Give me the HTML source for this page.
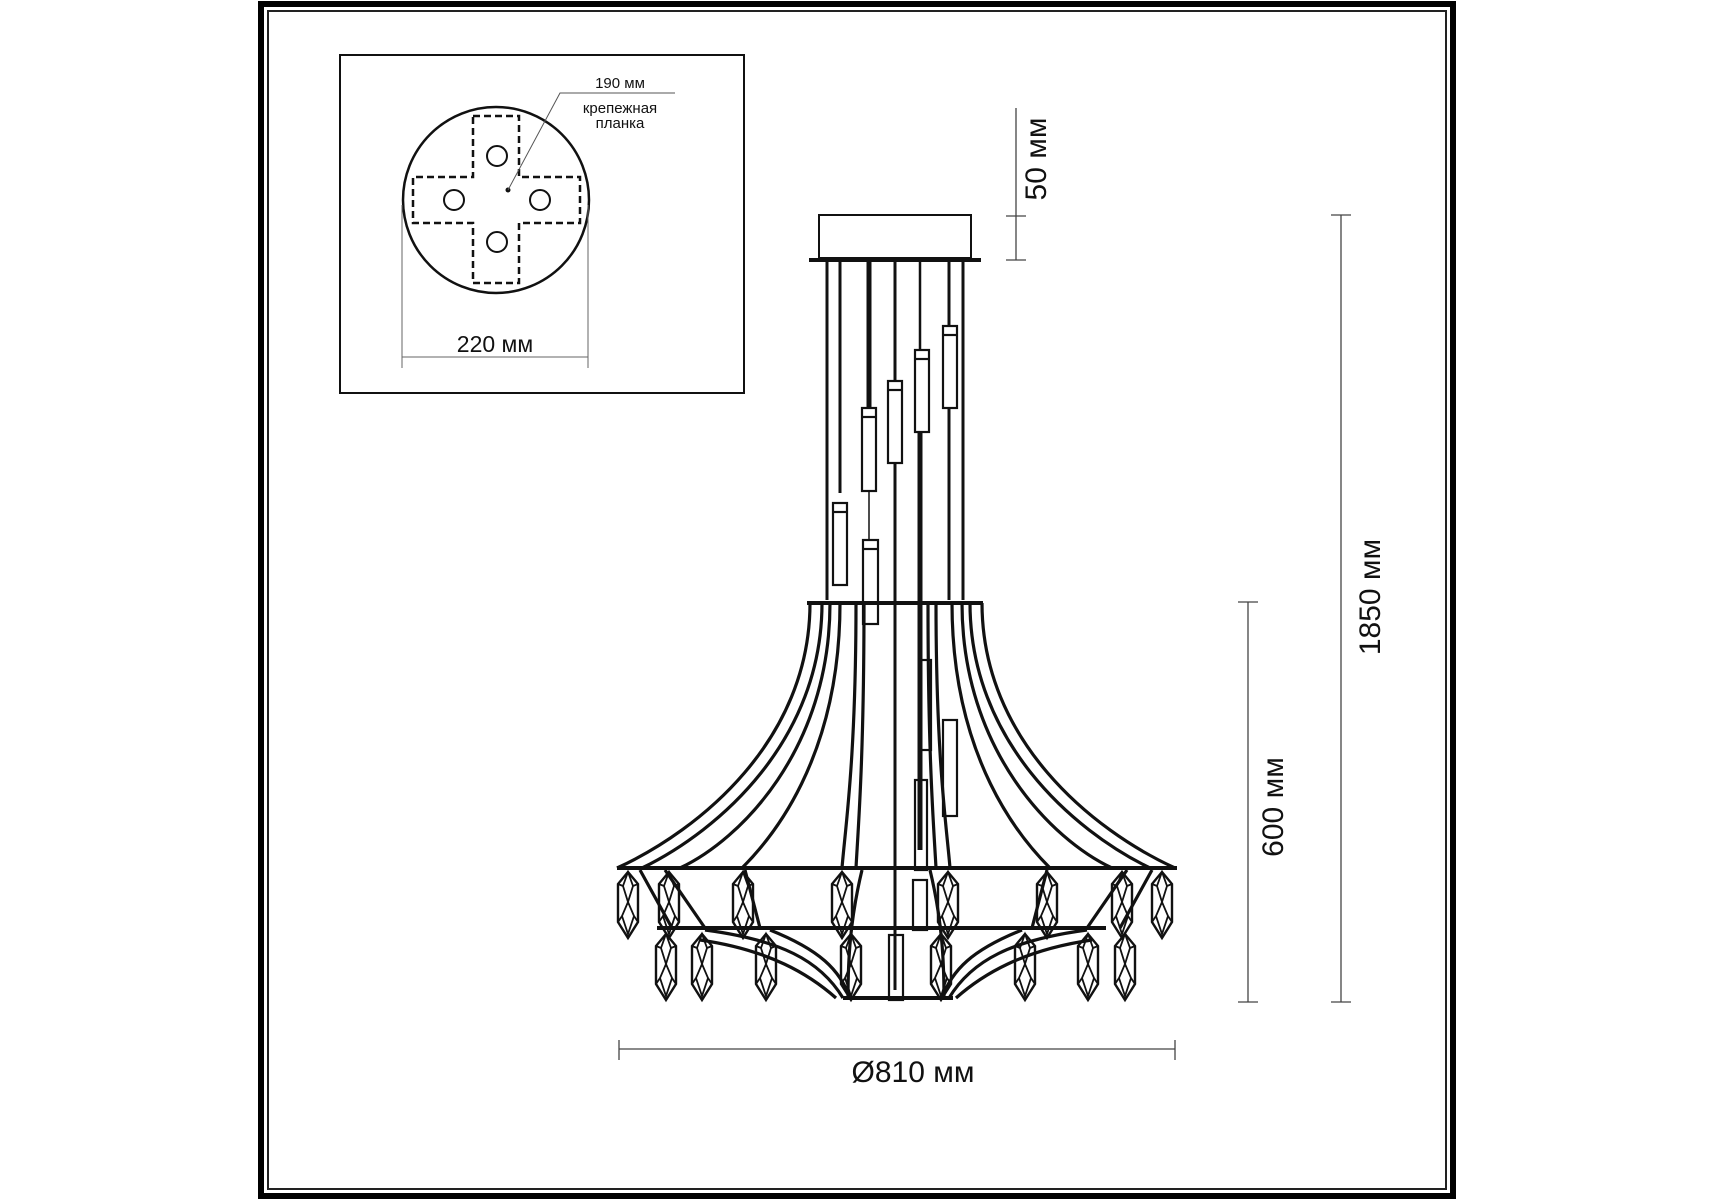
<!DOCTYPE html>
<html><head><meta charset="utf-8"><style>
html,body{margin:0;padding:0;background:#fff;width:1715px;height:1200px;overflow:hidden}
svg{display:block}
text{font-family:"Liberation Sans",sans-serif;fill:#111}
</style></head><body>
<svg width="1715" height="1200" viewBox="0 0 1715 1200" xmlns="http://www.w3.org/2000/svg">
<defs>
<g id="cr" fill="none" stroke="#111" stroke-width="2.4">
<path d="M0 0 L10 12 L10 50 L0 66 L-10 50 L-10 12 Z"/>
<path d="M0 0 L-5 14 L0 30 L5 14 Z M-10 12 L-5 14 M10 12 L5 14 M0 30 L-6 44 L0 62 L6 44 Z M-10 50 L-6 44 M10 50 L6 44" stroke-width="1.8"/>
</g>
</defs>
<rect x="261" y="4" width="1192" height="1192" fill="none" stroke="#000" stroke-width="6"/>
<rect x="268" y="11" width="1178" height="1178" fill="none" stroke="#222" stroke-width="2"/>
<rect x="340" y="55" width="404" height="338" fill="none" stroke="#111" stroke-width="2"/>
<circle cx="496" cy="200" r="93" fill="none" stroke="#111" stroke-width="2.5"/>
<path d="M473 116 H519 V177 H580 V223 H519 V283 H473 V223 H413 V177 H473 Z" fill="none" stroke="#111" stroke-width="2.5" stroke-dasharray="7,4"/>
<g fill="none" stroke="#111" stroke-width="2"><circle cx="497" cy="156" r="10"/><circle cx="454" cy="200" r="10"/><circle cx="540" cy="200" r="10"/><circle cx="497" cy="242" r="10"/></g>
<circle cx="508" cy="190" r="2.5" fill="#111"/>
<polyline points="508,190 560,93 675,93" fill="none" stroke="#555" stroke-width="1"/>
<text x="620" y="88" font-size="15" text-anchor="middle">190 мм</text>
<text x="620" y="113" font-size="15" text-anchor="middle">крепежная</text>
<text x="620" y="128" font-size="15" text-anchor="middle">планка</text>
<g stroke="#666" stroke-width="1"><line x1="402" y1="205" x2="402" y2="368"/><line x1="588" y1="205" x2="588" y2="368"/><line x1="402" y1="357" x2="588" y2="357"/></g>
<text x="495" y="352" font-size="23" text-anchor="middle">220 мм</text>
<g stroke="#444" stroke-width="1.3">
<line x1="1016" y1="108" x2="1016" y2="260"/><line x1="1006" y1="216" x2="1026" y2="216"/><line x1="1006" y1="260" x2="1026" y2="260"/>
<line x1="1341" y1="215" x2="1341" y2="1002"/><line x1="1331" y1="215" x2="1351" y2="215"/><line x1="1331" y1="1002" x2="1351" y2="1002"/>
<line x1="1248" y1="602" x2="1248" y2="1002"/><line x1="1238" y1="602" x2="1258" y2="602"/><line x1="1238" y1="1002" x2="1258" y2="1002"/>
<line x1="619" y1="1049" x2="1175" y2="1049"/><line x1="619" y1="1040" x2="619" y2="1060"/><line x1="1175" y1="1040" x2="1175" y2="1060"/>
</g>
<text transform="translate(1046,159) rotate(-90)" font-size="30" text-anchor="middle">50 мм</text>
<text transform="translate(1380,597) rotate(-90)" font-size="30" text-anchor="middle">1850 мм</text>
<text transform="translate(1283,807) rotate(-90)" font-size="30" text-anchor="middle">600 мм</text>
<text x="913" y="1082" font-size="30" text-anchor="middle">Ø810 мм</text>
<rect x="819" y="215" width="152" height="43" fill="none" stroke="#111" stroke-width="2"/>
<line x1="809" y1="260" x2="981" y2="260" stroke="#111" stroke-width="4"/>
<g stroke="#111" fill="none">
<g stroke-width="3">
<line x1="827" y1="262" x2="827" y2="600"/><line x1="840" y1="262" x2="840" y2="493"/>
<line x1="895" y1="262" x2="895" y2="381"/><line x1="895" y1="463" x2="895" y2="990"/>
<line x1="949" y1="262" x2="949" y2="326"/><line x1="949" y1="408" x2="949" y2="600"/>
<line x1="963" y1="262" x2="963" y2="600"/>
<line x1="869" y1="540" x2="869" y2="491" stroke-width="1.5"/>
</g>
<line x1="869" y1="262" x2="869" y2="408" stroke-width="5"/>
<line x1="920" y1="262" x2="920" y2="350" stroke-width="2.5"/>
<line x1="920" y1="432" x2="920" y2="850" stroke-width="5"/>
<g stroke-width="2.2">
<rect x="833" y="503" width="14" height="82"/><line x1="833" y1="512" x2="847" y2="512"/>
<rect x="862" y="408" width="14" height="83"/><line x1="862" y1="417" x2="876" y2="417"/>
<rect x="863" y="540" width="15" height="84"/><line x1="863" y1="549" x2="878" y2="549"/>
<rect x="888" y="381" width="14" height="82"/><line x1="888" y1="390" x2="902" y2="390"/>
<rect x="915" y="350" width="14" height="82"/><line x1="915" y1="359" x2="929" y2="359"/>
<rect x="943" y="326" width="14" height="82"/><line x1="943" y1="335" x2="957" y2="335"/>
<rect x="919" y="660" width="12" height="90"/>
<rect x="943" y="720" width="14" height="96"/>
<rect x="915" y="780" width="12" height="90"/>
<rect x="913" y="880" width="14" height="50"/>
<rect x="889" y="935" width="14" height="65"/>
</g>
<line x1="807" y1="603" x2="983" y2="603" stroke-width="4"/>
<line x1="617" y1="868" x2="1177" y2="868" stroke-width="4"/>
<line x1="657" y1="928" x2="1106" y2="928" stroke-width="4"/>
<line x1="843" y1="998" x2="953" y2="998" stroke-width="4"/>
<g stroke-width="3.2">
<path d="M810 603 C810 740 700 830 617 868"/><path d="M822 603 C822 740 720 830 642 868"/>
<path d="M830 603 C830 750 740 840 680 868"/><path d="M840 603 C840 760 770 840 742 868"/>
<path d="M856 603 C856 760 845 830 842 868"/><path d="M864 603 C864 760 858 830 856 868"/>
<path d="M982 603 C982 740 1092 830 1175 868"/><path d="M970 603 C970 740 1072 830 1150 868"/>
<path d="M962 603 C962 750 1052 840 1112 868"/><path d="M952 603 C952 760 1022 840 1050 868"/>
<path d="M936 603 C936 760 947 830 950 868"/><path d="M928 603 C928 760 934 830 936 868"/>
<path d="M640 870 L672 928"/><path d="M665 870 L705 928"/><path d="M745 870 L760 928"/>
<path d="M1152 870 L1120 928"/><path d="M1127 870 L1087 928"/><path d="M1047 870 L1032 928"/>
<path d="M705 930 C780 940 820 960 843 998"/><path d="M700 940 C770 950 810 975 836 998"/>
<path d="M770 930 C820 950 840 970 850 998"/>
<path d="M1087 930 C1012 940 972 960 949 998"/><path d="M1092 940 C1022 950 982 975 956 998"/>
<path d="M1022 930 C972 950 952 970 942 998"/>
<path d="M862 870 C850 920 848 960 848 998"/><path d="M930 870 C942 920 944 960 944 998"/>
</g>
</g>
<use href="#cr" x="628" y="872"/><use href="#cr" x="669" y="872"/><use href="#cr" x="743" y="872"/><use href="#cr" x="842" y="872"/>
<use href="#cr" x="948" y="872"/><use href="#cr" x="1047" y="872"/><use href="#cr" x="1122" y="872"/><use href="#cr" x="1162" y="872"/>
<use href="#cr" x="666" y="934"/><use href="#cr" x="702" y="934"/><use href="#cr" x="766" y="934"/><use href="#cr" x="851" y="934"/>
<use href="#cr" x="941" y="934"/><use href="#cr" x="1025" y="934"/><use href="#cr" x="1088" y="934"/><use href="#cr" x="1125" y="934"/>
</svg>
</body></html>
